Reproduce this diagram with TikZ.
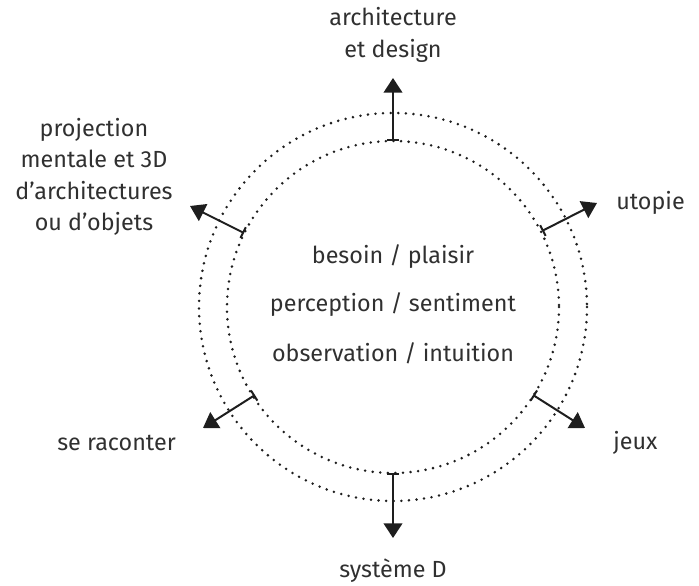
\documentclass[tikz,border=0pt]{standalone}
\usepackage{fontspec}
\setmainfont{Fira Sans}
\usepackage{xcolor}
\usetikzlibrary{arrows.meta}
\definecolor{txt}{HTML}{303030}
\definecolor{ink}{HTML}{1E1E1E}

\begin{document}
\begin{tikzpicture}[x=0.75pt, y=-0.75pt,
    every node/.style={text=txt, align=center, inner sep=0pt,
      font=\fontsize{17.5}{23.5}\selectfont},
    ring/.style={draw=ink, line width=2.1pt, line cap=round, dash pattern=on 0pt off 5.7pt},
    link/.style={draw=ink, line width=1.5pt,
      {Bar[width=9pt, line width=1.5pt]}-{Triangle[width=14pt, length=11pt]}}]
     \useasboundingbox (0,0) rectangle (699,585);

     % the two circles
     \coordinate (O) at (393,307);
     \draw[ring] (O) circle [radius=166];
     \draw[ring] (O) circle [radius=194];

     % middle text
     \node (M1) at (393,257) {besoin / plaisir};
     \node (M2) at (393,305) {perception / sentiment};
     \node (M3) at (393,353) {observation / intuition};

     % outer labels
     \node (A) at (393,35) {architecture\\et design};
     \node[anchor=west] (B) at (616,203) {utopie};
     \node[anchor=west] (C) at (613,443) {jeux};
     \node (D) at (393,571) {système D};
     \node[anchor=east] (E) at (176,443) {se raconter};
     \node (F) at (94,177) {projection\\mentale et 3D\\d’architectures\\ou d’objets};

     % arrow ends
     \coordinate (A0) at (393,141);
     \coordinate (A1) at (393,78);
     \coordinate (B0) at (542,231);
     \coordinate (B1) at (597,203);
     \coordinate (C0) at (533,395);
     \coordinate (C1) at (585,428);
     \coordinate (D0) at (393,473);
     \coordinate (D1) at (393,538);
     \coordinate (E0) at (255,395);
     \coordinate (E1) at (203,428);
     \coordinate (F0) at (244,233);
     \coordinate (F1) at (190,206);

     \draw[link] (A0) -- (A1);
     \draw[link] (B0) -- (B1);
     \draw[link] (C0) -- (C1);
     \draw[link] (D0) -- (D1);
     \draw[link] (E0) -- (E1);
     \draw[link] (F0) -- (F1);
\end{tikzpicture}
\end{document}
